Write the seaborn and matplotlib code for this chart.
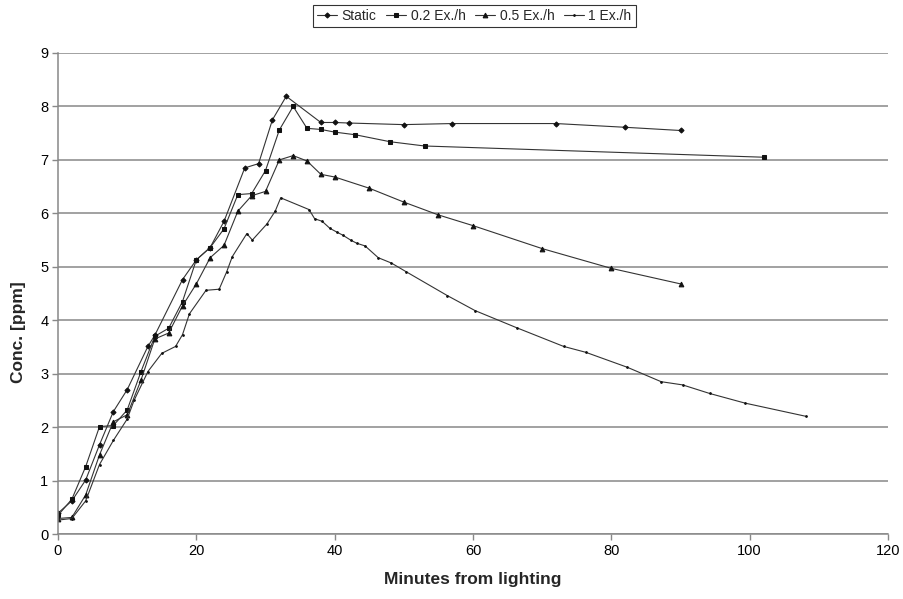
import matplotlib
matplotlib.use("Agg")
import matplotlib.pyplot as plt
import seaborn as sns
import pandas as pd

# ---- data ----
static_t = [0, 2, 4, 6, 8, 10, 13, 14, 18, 20, 22, 24, 27, 29, 31, 33, 38, 40, 42, 50, 57, 72, 82, 90]
static_c = [0.39, 0.62, 1.01, 1.67, 2.29, 2.70, 3.51, 3.72, 4.76, 5.13, 5.36, 5.85, 6.85, 6.93, 7.75, 8.19,
            7.70, 7.70, 7.69, 7.66, 7.68, 7.68, 7.61, 7.55]

ex02_t = [0, 2, 4, 6, 8, 10, 12, 14, 16, 18, 20, 22, 24, 26, 28, 30, 32, 34, 36, 38, 40, 43, 48, 53, 102]
ex02_c = [0.35, 0.65, 1.26, 2.01, 2.03, 2.32, 3.04, 3.70, 3.85, 4.35, 5.13, 5.36, 5.71, 6.35, 6.37, 6.80,
          7.56, 8.00, 7.59, 7.57, 7.52, 7.47, 7.34, 7.26, 7.05]

ex05_t = [0, 2, 4, 6, 8, 10, 12, 14, 16, 18, 20, 22, 24, 26, 28, 30, 32, 34, 36, 38, 40, 45, 50, 55, 60, 70, 80, 90]
ex05_c = [0.29, 0.31, 0.73, 1.48, 2.10, 2.23, 2.88, 3.65, 3.76, 4.27, 4.68, 5.17, 5.40, 6.04, 6.33, 6.41,
          7.00, 7.08, 6.98, 6.73, 6.68, 6.47, 6.21, 5.97, 5.77, 5.34, 4.97, 4.68]

ex1_t = [0, 2, 4, 6, 8, 10, 11, 13, 15, 17, 18, 19, 21.4, 23.3, 24.4, 25.2, 27.3, 28.1, 30.2, 31.4, 32.2,
         36.3, 37.1, 38.2, 39.3, 40.3, 41.2, 42.3, 43.2, 44.4, 46.3, 48.2, 50.3, 56.3, 60.3, 66.3, 73.1,
         76.3, 82.3, 87.2, 90.3, 94.2, 99.3, 108.2]
ex1_c = [0.26, 0.29, 0.62, 1.30, 1.75, 2.15, 2.50, 3.04, 3.38, 3.51, 3.73, 4.12, 4.56, 4.58, 4.91, 5.19,
         5.62, 5.50, 5.80, 6.04, 6.29, 6.07, 5.90, 5.85, 5.72, 5.65, 5.59, 5.50, 5.44, 5.39, 5.17, 5.07,
         4.91, 4.46, 4.18, 3.86, 3.51, 3.40, 3.12, 2.85, 2.79, 2.63, 2.45, 2.20]

series_names = ["Static", "0.2 Ex./h", "0.5 Ex./h", "1 Ex./h"]
x_ticks = [0, 20, 40, 60, 80, 100, 120]
y_ticks = [0, 1, 2, 3, 4, 5, 6, 7, 8, 9]

frames = []
for name, t, c in zip(series_names, [static_t, ex02_t, ex05_t, ex1_t], [static_c, ex02_c, ex05_c, ex1_c]):
    frames.append(pd.DataFrame({"t": t, "c": c, "series": name}))
df = pd.concat(frames, ignore_index=True)

sns.set_style("white")
plt.rcParams["font.family"] = ["Liberation Sans", "DejaVu Sans"]

fig = plt.figure(figsize=(9.04, 5.99), dpi=100)
ax = fig.add_axes([58 / 904, 1 - 534 / 599, (888 - 58) / 904, (534 - 53) / 599])

markers = {"Static": "D", "0.2 Ex./h": "s", "0.5 Ex./h": "^", "1 Ex./h": "."}
msizes = {"Static": 2.6, "0.2 Ex./h": 3.0, "0.5 Ex./h": 3.4, "1 Ex./h": 2.4}

for name in series_names:
    sub = df[df["series"] == name]
    sns.lineplot(data=sub, x="t", y="c", ax=ax, color="#333333", linewidth=0.8,
                 marker=markers[name], markersize=msizes[name], markeredgecolor="#111111",
                 markerfacecolor="#111111", label=name, sort=False, estimator=None)

ax.set_xlim(0, 120)
ax.set_ylim(0, 9)
ax.set_xticks(x_ticks)
ax.set_yticks(y_ticks)
ax.yaxis.grid(True, color="#888888", linewidth=1.1)
ax.xaxis.grid(False)
ax.set_axisbelow(True)
for s in ["top", "right"]:
    ax.spines[s].set_visible(False)
for s in ["left", "bottom"]:
    ax.spines[s].set_color("#888888")
    ax.spines[s].set_linewidth(1.1)
ax.tick_params(axis="both", direction="out", length=4, width=1, color="#888888",
               labelsize=10.5, labelcolor="black", pad=3)
ax.tick_params(axis="x", bottom=True)
ax.tick_params(axis="y", left=True)
ax.set_xlabel("Minutes from lighting", fontsize=12.5, fontweight="bold", labelpad=10)
ax.set_ylabel("Conc. [ppm]", fontsize=12.5, fontweight="bold")
ax.yaxis.set_label_coords(-0.038, 0.42)

ax.get_legend().remove()
handles, labels = ax.get_legend_handles_labels()
leg = fig.legend(handles, labels, loc="center", bbox_to_anchor=(474.5 / 904, 1 - 16 / 599), ncol=4,
                 frameon=True, fancybox=False, edgecolor="black", fontsize=10,
                 handlelength=1.4, handletextpad=0.35, columnspacing=0.7, borderpad=0.3)
leg.get_frame().set_linewidth(0.8)

fig.savefig("out.png", dpi=100)
